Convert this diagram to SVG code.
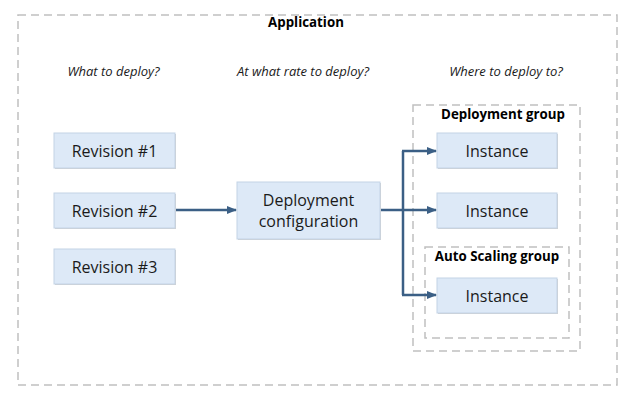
<svg xmlns="http://www.w3.org/2000/svg" width="635" height="402" viewBox="0 0 635 402">
<style>
.dash{fill:none;stroke:#c0c0c0;stroke-width:1.5;stroke-dasharray:8,5}
.box{fill:#dde9f7;stroke:#c3d3e6;stroke-width:1}
.shadow{fill:#d0d0d0}
.t{font-family:"Open Sans","Liberation Sans",sans-serif;font-size:16px;fill:#1a1a1a;text-anchor:middle}
.q{font-family:"Open Sans","Liberation Sans",sans-serif;font-size:13px;font-style:italic;fill:#1a1a1a;text-anchor:middle}
.h{font-family:"Open Sans","Liberation Sans",sans-serif;font-size:13.3px;font-weight:bold;fill:#000;text-anchor:middle}
.c{fill:none;stroke:#3b5f85;stroke-width:2.5}
</style>
<defs>
<marker id="arr" markerWidth="10" markerHeight="10" refX="9" refY="5" orient="auto" markerUnits="userSpaceOnUse">
<path d="M0,1 L10,5 L0,9 Z" fill="#3b5f85"/>
</marker>
</defs>
<rect width="635" height="402" fill="#fff"/>
<g id="application">
<rect class="dash" x="18" y="15" width="599" height="370"/>
<text class="h" x="306" y="27">Application</text>
<text class="q" x="113.5" y="75.5">What to deploy?</text>
<text class="q" x="303" y="75.5">At what rate to deploy?</text>
<text class="q" x="506" y="75.5">Where to deploy to?</text>
</g>
<g id="deployment-group">
<rect class="dash" x="413" y="105" width="167" height="246"/>
<text class="h" x="503" y="119">Deployment group</text>
</g>
<g id="auto-scaling-group">
<rect class="dash" x="425" y="247" width="144" height="91"/>
<text class="h" x="497" y="261">Auto Scaling group</text>
</g>
<g id="revision-1">
<rect class="shadow" x="55" y="134" width="121" height="35"/>
<rect class="box" x="54" y="133" width="121" height="35"/>
<text class="t" x="114.5" y="156.5">Revision #1</text>
</g>
<g id="revision-2">
<rect class="shadow" x="55" y="194" width="121" height="35"/>
<rect class="box" x="54" y="193" width="121" height="35"/>
<text class="t" x="114.5" y="216.5">Revision #2</text>
</g>
<g id="revision-3">
<rect class="shadow" x="55" y="250" width="121" height="35"/>
<rect class="box" x="54" y="249" width="121" height="35"/>
<text class="t" x="114.5" y="272.5">Revision #3</text>
</g>
<g id="deployment-configuration">
<rect class="shadow" x="238" y="183" width="143" height="57"/>
<rect class="box" x="237" y="182" width="143" height="57"/>
<text class="t" x="308.5" y="206">Deployment</text>
<text class="t" x="308.5" y="227">configuration</text>
</g>
<g id="instance-1">
<rect class="shadow" x="438" y="134" width="120" height="35"/>
<rect class="box" x="437" y="133" width="120" height="35"/>
<text class="t" x="497" y="156.5">Instance</text>
</g>
<g id="instance-2">
<rect class="shadow" x="438" y="194" width="120" height="35"/>
<rect class="box" x="437" y="193" width="120" height="35"/>
<text class="t" x="497" y="216.5">Instance</text>
</g>
<g id="instance-3">
<rect class="shadow" x="438" y="279" width="120" height="35"/>
<rect class="box" x="437" y="278" width="120" height="35"/>
<text class="t" x="497" y="301.5">Instance</text>
</g>
<g id="connectors">
<path class="c" d="M176,210 H236" marker-end="url(#arr)"/>
<path class="c" d="M381,210 H403"/>
<path class="c" d="M403,151 V295"/>
<path class="c" d="M402,151 H436" marker-end="url(#arr)"/>
<path class="c" d="M403,210 H436" marker-end="url(#arr)"/>
<path class="c" d="M402,295 H436" marker-end="url(#arr)"/>
</g>
</svg>
